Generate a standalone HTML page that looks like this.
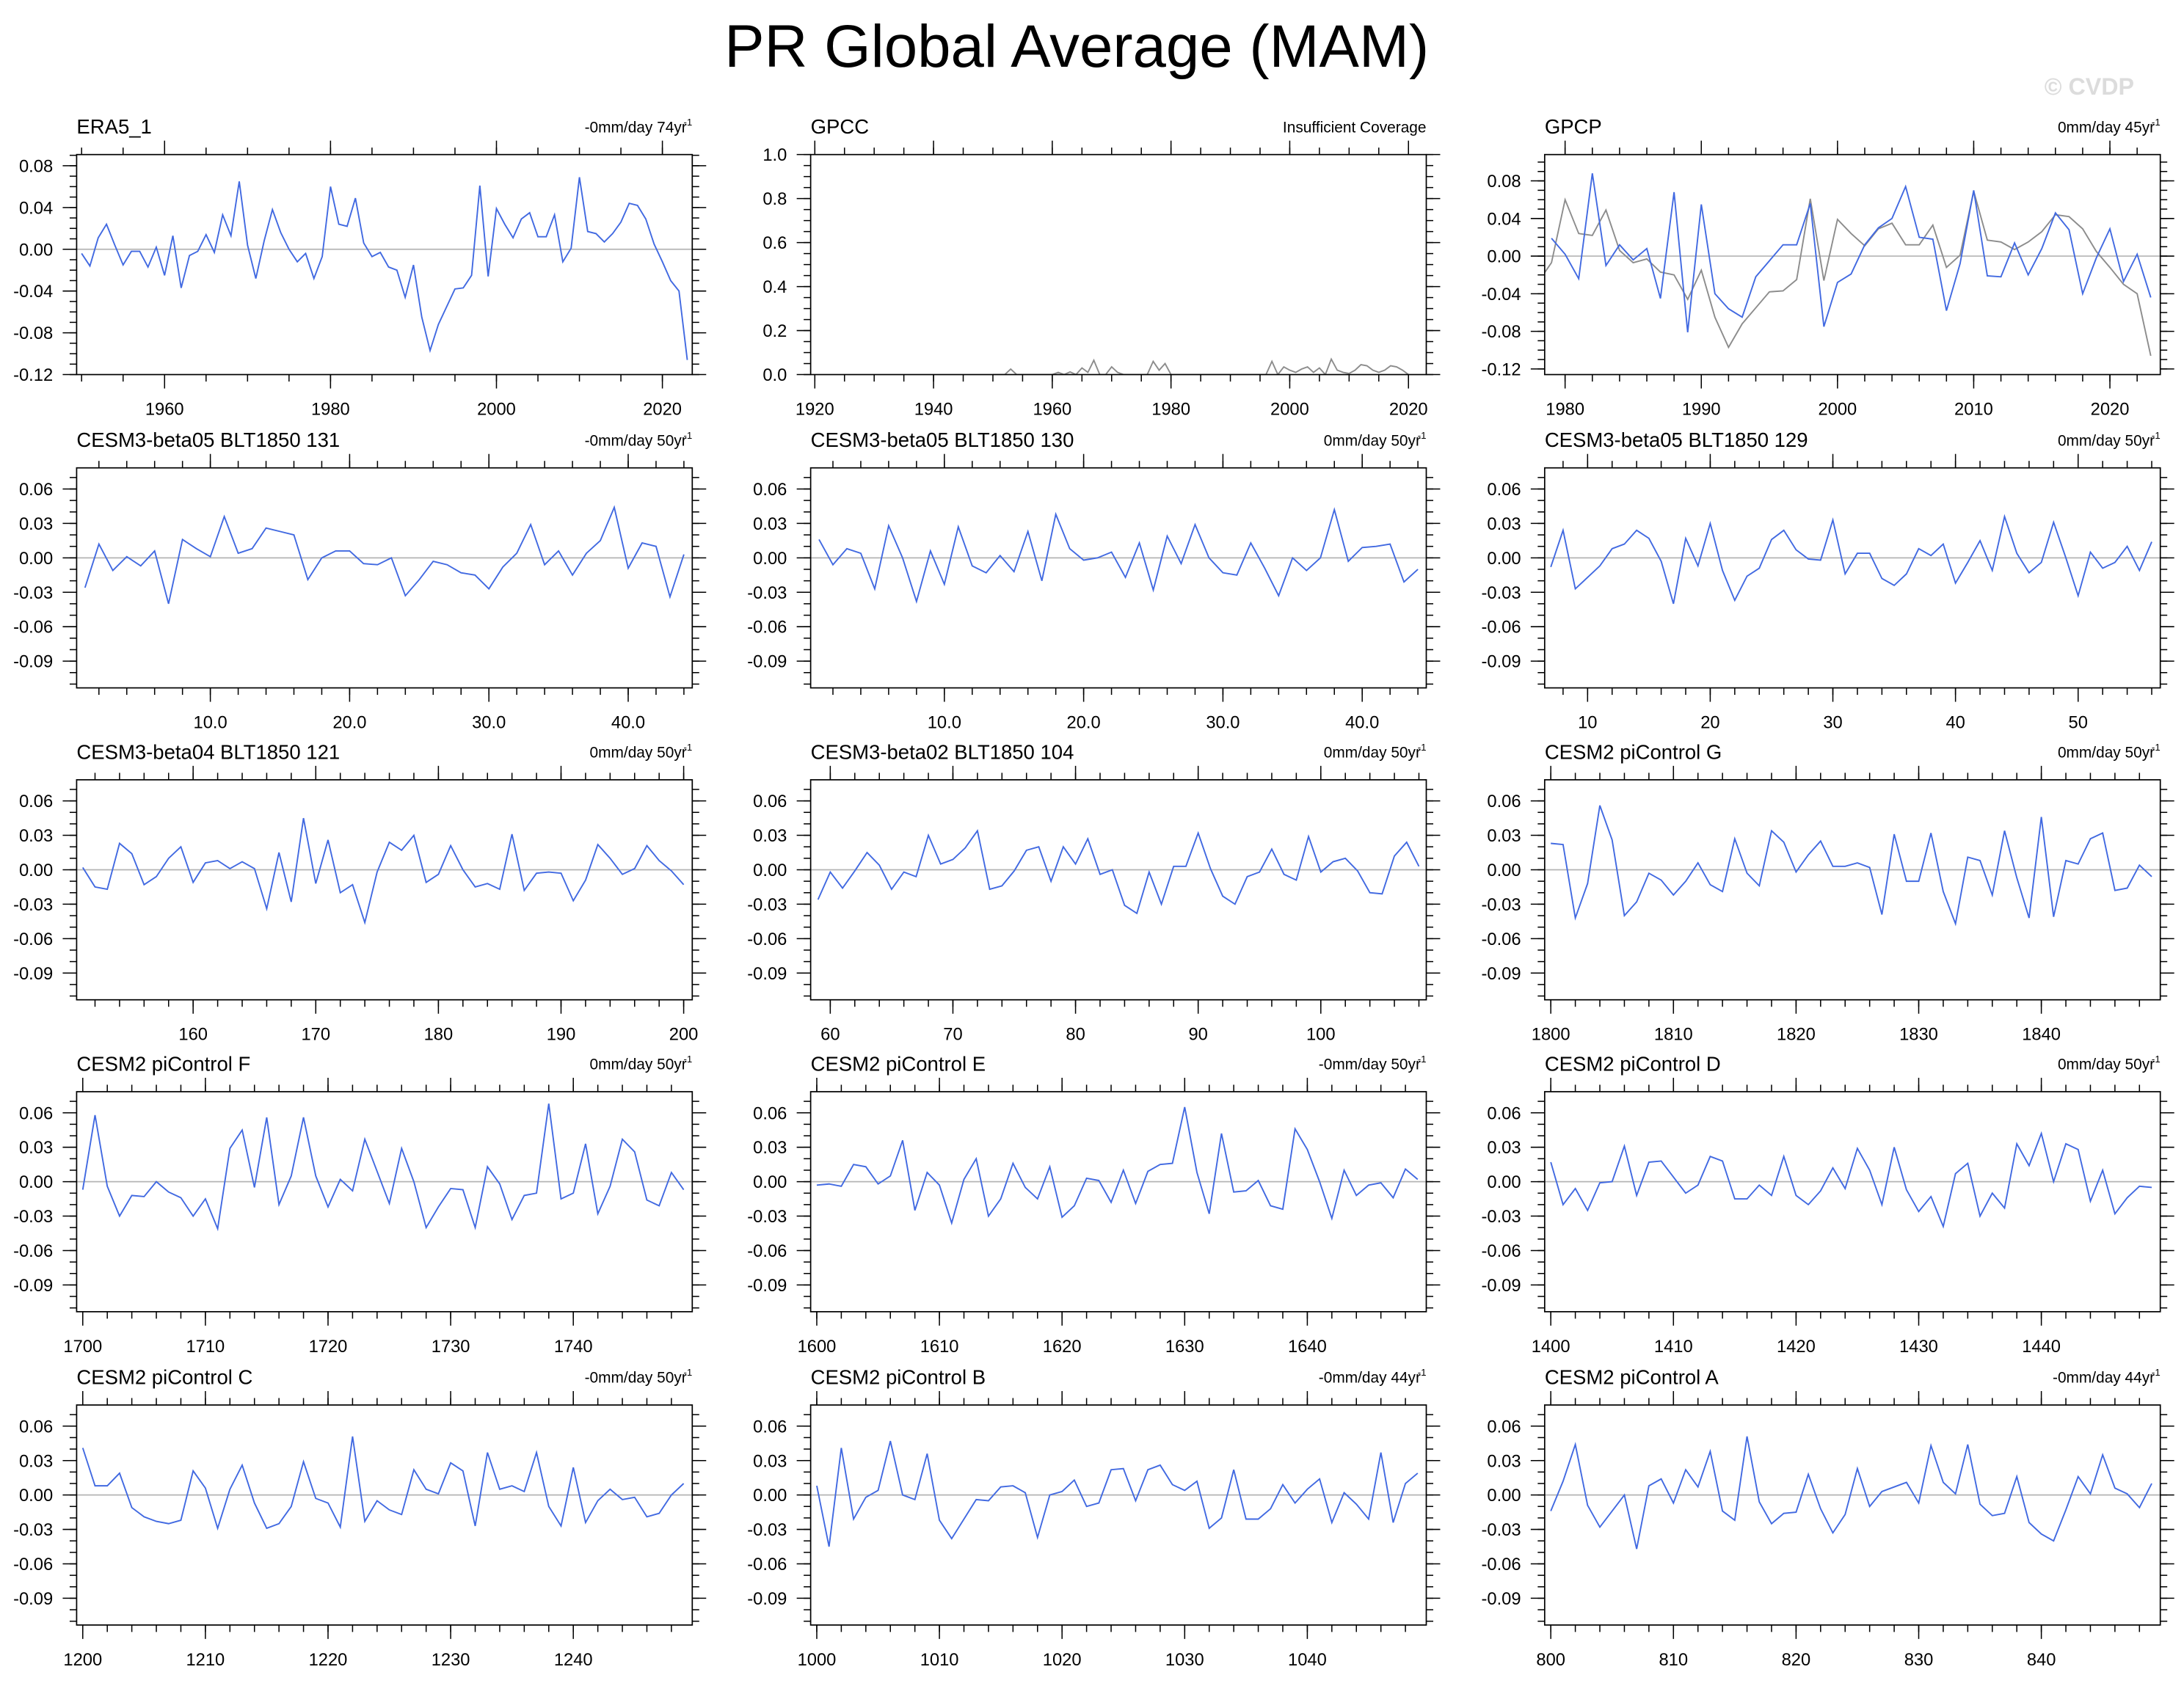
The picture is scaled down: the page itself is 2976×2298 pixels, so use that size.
<!DOCTYPE html>
<html><head><meta charset="utf-8">
<style>
html,body{margin:0;padding:0;background:#fff;}
svg{display:block;font-family:"Liberation Sans",sans-serif;}
</style></head>
<body>
<svg id="chart" width="2976" height="2298" viewBox="0 0 1568 1210.8" xmlns="http://www.w3.org/2000/svg">
<text x="773" y="48" font-size="43" text-anchor="middle" fill="#000">PR Global Average (MAM)</text>
<text x="1500" y="68" font-size="17" font-weight="bold" text-anchor="middle" fill="#dcdcdc">© CVDP</text>
</svg>
<script>
const era5Values=[-0.004,-0.016,0.011,0.024,0.004,-0.015,-0.002,-0.002,-0.017,0.002,-0.025,0.013,-0.037,-0.006,-0.002,0.014,-0.003,0.033,0.013,0.065,0.004,-0.028,0.008,0.038,0.016,0.000,-0.012,-0.004,-0.028,-0.007,0.060,0.024,0.022,0.049,0.006,-0.007,-0.003,-0.017,-0.020,-0.046,-0.015,-0.065,-0.097,-0.072,-0.055,-0.038,-0.037,-0.025,0.061,-0.026,0.039,0.024,0.011,0.029,0.035,0.012,0.012,0.033,-0.012,0.001,0.069,0.017,0.015,0.007,0.015,0.026,0.044,0.042,0.029,0.005,-0.012,-0.030,-0.040,-0.106];
const gpcpValues=[0.019,0.002,-0.024,0.088,-0.010,0.012,-0.004,0.008,-0.045,0.068,-0.081,0.055,-0.040,-0.056,-0.065,-0.022,-0.005,0.012,0.012,0.056,-0.075,-0.028,-0.019,0.012,0.030,0.040,0.074,0.020,0.018,-0.058,-0.008,0.070,-0.021,-0.022,0.014,-0.020,0.008,0.046,0.028,-0.040,-0.002,0.029,-0.027,0.002,-0.044];
const gpccValues=[0,0,0,0.025,0,0,0,0,0,0,0,0.01,0,0.012,0,0.03,0.01,0.065,0,0,0.035,0.01,0,0,0,0,0,0.06,0.02,0.05,0,0,0,0,0,0,0,0,0,0,0,0,0,0,0,0,0,0.06,0,0.035,0.02,0.01,0.025,0.035,0.01,0.03,0,0.07,0.02,0.01,0.005,0.02,0.045,0.04,0.02,0.01,0.02,0.04,0.035,0.02,0];
const b05r131=[-0.026,0.012,-0.011,0.001,-0.007,0.006,-0.040,0.016,0.008,0.001,0.036,0.004,0.008,0.026,0.023,0.020,-0.019,0.000,0.006,0.006,-0.005,-0.006,0.000,-0.033,-0.019,-0.003,-0.006,-0.013,-0.015,-0.027,-0.008,0.004,0.029,-0.006,0.006,-0.015,0.004,0.015,0.044,-0.009,0.013,0.010,-0.034,0.003];
const b05r130=[0.016,-0.006,0.008,0.004,-0.027,0.028,0.000,-0.038,0.006,-0.023,0.027,-0.007,-0.013,0.002,-0.012,0.023,-0.020,0.038,0.008,-0.002,0.000,0.005,-0.017,0.013,-0.028,0.019,-0.005,0.029,0.000,-0.013,-0.015,0.013,-0.009,-0.033,0.000,-0.011,0.000,0.042,-0.003,0.009,0.010,0.012,-0.021,-0.010];
const b05r129=[-0.008,0.024,-0.027,-0.017,-0.007,0.008,0.012,0.024,0.017,-0.003,-0.040,0.017,-0.007,0.030,-0.011,-0.037,-0.016,-0.009,0.016,0.024,0.007,-0.001,-0.002,0.033,-0.014,0.004,0.004,-0.018,-0.024,-0.014,0.008,0.002,0.012,-0.022,-0.004,0.015,-0.011,0.036,0.004,-0.013,-0.004,0.031,0.000,-0.033,0.005,-0.009,-0.004,0.010,-0.011,0.014];
const b04r121=[0.002,-0.015,-0.017,0.023,0.014,-0.013,-0.006,0.010,0.020,-0.011,0.006,0.008,0.001,0.007,0.001,-0.034,0.015,-0.028,0.045,-0.012,0.026,-0.020,-0.013,-0.046,-0.002,0.024,0.017,0.030,-0.011,-0.004,0.021,0.000,-0.015,-0.012,-0.017,0.031,-0.018,-0.003,-0.002,-0.003,-0.027,-0.009,0.022,0.010,-0.004,0.001,0.021,0.008,-0.001,-0.013];
const b02r104=[-0.026,-0.002,-0.016,-0.001,0.015,0.004,-0.017,-0.002,-0.006,0.030,0.005,0.009,0.019,0.034,-0.017,-0.014,-0.001,0.017,0.020,-0.010,0.020,0.005,0.027,-0.004,0.000,-0.031,-0.038,-0.002,-0.030,0.003,0.003,0.032,0.001,-0.023,-0.030,-0.006,-0.002,0.018,-0.004,-0.009,0.029,-0.002,0.007,0.010,-0.001,-0.020,-0.021,0.012,0.024,0.003];
const piG=[0.023,0.022,-0.042,-0.012,0.056,0.026,-0.040,-0.028,-0.003,-0.009,-0.022,-0.010,0.006,-0.013,-0.019,0.027,-0.003,-0.014,0.034,0.024,-0.002,0.013,0.025,0.003,0.003,0.006,0.002,-0.039,0.031,-0.010,-0.010,0.032,-0.019,-0.047,0.011,0.008,-0.022,0.034,-0.007,-0.042,0.046,-0.041,0.008,0.005,0.027,0.032,-0.018,-0.016,0.004,-0.006];
const piF=[-0.007,0.058,-0.004,-0.030,-0.012,-0.013,0.000,-0.009,-0.014,-0.030,-0.015,-0.041,0.029,0.045,-0.005,0.056,-0.020,0.005,0.056,0.005,-0.022,0.002,-0.008,0.037,0.009,-0.019,0.029,0.000,-0.040,-0.022,-0.006,-0.007,-0.040,0.013,-0.002,-0.033,-0.012,-0.010,0.068,-0.015,-0.010,0.033,-0.028,-0.004,0.037,0.026,-0.016,-0.021,0.008,-0.007];
const piE=[-0.003,-0.002,-0.004,0.015,0.013,-0.002,0.005,0.036,-0.025,0.008,-0.003,-0.036,0.002,0.020,-0.030,-0.015,0.016,-0.005,-0.015,0.013,-0.031,-0.021,0.003,0.001,-0.018,0.010,-0.019,0.009,0.015,0.016,0.065,0.008,-0.028,0.042,-0.009,-0.008,0.001,-0.021,-0.024,0.046,0.028,0.000,-0.032,0.010,-0.012,-0.003,-0.001,-0.014,0.011,0.002];
const piD=[0.017,-0.020,-0.006,-0.025,-0.001,0.000,0.031,-0.012,0.017,0.018,0.004,-0.010,-0.003,0.022,0.018,-0.015,-0.015,-0.003,-0.012,0.022,-0.012,-0.020,-0.008,0.012,-0.006,0.029,0.010,-0.020,0.030,-0.007,-0.026,-0.013,-0.039,0.007,0.016,-0.030,-0.010,-0.023,0.033,0.014,0.042,0.000,0.033,0.028,-0.017,0.010,-0.028,-0.014,-0.004,-0.005];
const piC=[0.041,0.008,0.008,0.019,-0.011,-0.019,-0.023,-0.025,-0.022,0.021,0.006,-0.029,0.005,0.026,-0.007,-0.029,-0.025,-0.010,0.029,-0.003,-0.007,-0.028,0.051,-0.023,-0.005,-0.013,-0.017,0.022,0.005,0.001,0.028,0.021,-0.027,0.037,0.005,0.008,0.003,0.037,-0.010,-0.027,0.024,-0.024,-0.005,0.005,-0.004,-0.002,-0.019,-0.016,0.000,0.010];
const piB=[0.008,-0.045,0.041,-0.021,-0.002,0.004,0.047,0.000,-0.004,0.036,-0.022,-0.038,-0.021,-0.004,-0.005,0.007,0.008,0.002,-0.037,0.000,0.003,0.013,-0.010,-0.007,0.022,0.023,-0.005,0.022,0.026,0.009,0.004,0.012,-0.029,-0.020,0.022,-0.021,-0.021,-0.012,0.009,-0.007,0.005,0.014,-0.024,0.002,-0.008,-0.021,0.037,-0.024,0.010,0.019];
const piA=[-0.014,0.012,0.044,-0.009,-0.028,-0.014,0.000,-0.047,0.008,0.014,-0.007,0.022,0.007,0.038,-0.014,-0.022,0.051,-0.006,-0.025,-0.016,-0.015,0.018,-0.012,-0.033,-0.017,0.023,-0.010,0.003,0.007,0.011,-0.007,0.043,0.011,0.001,0.044,-0.008,-0.018,-0.016,0.016,-0.024,-0.034,-0.040,-0.013,0.016,0.001,0.035,0.006,0.001,-0.011,0.010];
const era5Start=1950, gpcpStart=1979, gpccStart=1950;
const yMain=[0.06,0.03,0.00,-0.03,-0.06,-0.09];
const yMainLabels=["0.06","0.03","0.00","-0.03","-0.06","-0.09"];
const yRow1=[0.08,0.04,0.00,-0.04,-0.08,-0.12];
const yRow1Labels=["0.08","0.04","0.00","-0.04","-0.08","-0.12"];
const yGpcc=[0,0.2,0.4,0.6,0.8,1.0];
const yGpccLabels=["0.0","0.2","0.4","0.6","0.8","1.0"];

const NS="http://www.w3.org/2000/svg";
const svg=document.getElementById('chart');
function mk(tag,attrs,parent){const e=document.createElementNS(NS,tag);for(const k in attrs)e.setAttribute(k,attrs[k]);(parent||svg).appendChild(e);return e;}

const colX=[55,582,1109], W=442;
const rowY=[111,336,560,784,1009], H=158;
const BLUE="#4169e1", GRAY="#8c8c8c";

function yr(a,b,s){const r=[];for(let v=a;v<=b+1e-9;v+=s)r.push(+v.toFixed(4));return r;}

const panels=[
 {r:0,c:0,name:"era5",title:"ERA5_1",rt:"-0mm/day 74yr",sets:[{v:era5Values,s:era5Start,col:BLUE}],xr:[1949.4,2023.6],yr:[-0.12,0.0907],xmaj:yr(1960,2020,20),xmin:yr(1950,2020,5),xfmt:v=>String(v),ymaj:yRow1,ylab:yRow1Labels,ymin:0.01},
 {r:0,c:1,name:"gpcc",title:"GPCC",rt:"Insufficient Coverage",nosup:true,sets:[{v:gpccValues,s:gpccStart,col:GRAY}],xr:[1919.3,2023],yr:[0,1.0],xmaj:yr(1920,2020,20),xmin:yr(1920,2020,5),xfmt:v=>String(v),ymaj:yGpcc,ylab:yGpccLabels,ymin:0.05,nozero:true},
 {r:0,c:2,name:"gpcp",title:"GPCP",rt:"0mm/day 45yr",sets:[{v:era5Values,s:era5Start,col:GRAY},{v:gpcpValues,s:gpcpStart,col:BLUE}],xr:[1978.5,2023.7],yr:[-0.126,0.108],xmaj:yr(1980,2020,10),xmin:yr(1980,2022,2),xfmt:v=>String(v),ymaj:yRow1,ylab:yRow1Labels,ymin:0.01},
 {r:1,c:0,name:"beta05-131",title:"CESM3-beta05 BLT1850 131",rt:"-0mm/day 50yr",sets:[{v:b05r131,s:1,col:BLUE}],xr:[0.4,44.6],xmaj:yr(10,40,10),xmin:yr(2,44,2),xfmt:v=>v.toFixed(1)},
 {r:1,c:1,name:"beta05-130",title:"CESM3-beta05 BLT1850 130",rt:"0mm/day 50yr",sets:[{v:b05r130,s:1,col:BLUE}],xr:[0.4,44.6],xmaj:yr(10,40,10),xmin:yr(2,44,2),xfmt:v=>v.toFixed(1)},
 {r:1,c:2,name:"beta05-129",title:"CESM3-beta05 BLT1850 129",rt:"0mm/day 50yr",sets:[{v:b05r129,s:7,col:BLUE}],xr:[6.5,56.7],xmaj:yr(10,50,10),xmin:yr(8,56,2),xfmt:v=>String(v)},
 {r:2,c:0,name:"beta04-121",title:"CESM3-beta04 BLT1850 121",rt:"0mm/day 50yr",sets:[{v:b04r121,s:151,col:BLUE}],xr:[150.5,200.7],xmaj:yr(160,200,10),xmin:yr(152,200,2),xfmt:v=>String(v)},
 {r:2,c:1,name:"beta02-104",title:"CESM3-beta02 BLT1850 104",rt:"0mm/day 50yr",sets:[{v:b02r104,s:59,col:BLUE}],xr:[58.4,108.6],xmaj:yr(60,100,10),xmin:yr(60,108,2),xfmt:v=>String(v)},
 {r:2,c:2,name:"picontrol-g",title:"CESM2 piControl G",rt:"0mm/day 50yr",sets:[{v:piG,s:1800,col:BLUE}],xr:[1799.5,1849.7],xmaj:yr(1800,1840,10),xmin:yr(1800,1848,2),xfmt:v=>String(v)},
 {r:3,c:0,name:"picontrol-f",title:"CESM2 piControl F",rt:"0mm/day 50yr",sets:[{v:piF,s:1700,col:BLUE}],xr:[1699.5,1749.7],xmaj:yr(1700,1740,10),xmin:yr(1700,1748,2),xfmt:v=>String(v)},
 {r:3,c:1,name:"picontrol-e",title:"CESM2 piControl E",rt:"-0mm/day 50yr",sets:[{v:piE,s:1600,col:BLUE}],xr:[1599.5,1649.7],xmaj:yr(1600,1640,10),xmin:yr(1600,1648,2),xfmt:v=>String(v)},
 {r:3,c:2,name:"picontrol-d",title:"CESM2 piControl D",rt:"0mm/day 50yr",sets:[{v:piD,s:1400,col:BLUE}],xr:[1399.5,1449.7],xmaj:yr(1400,1440,10),xmin:yr(1400,1448,2),xfmt:v=>String(v)},
 {r:4,c:0,name:"picontrol-c",title:"CESM2 piControl C",rt:"-0mm/day 50yr",sets:[{v:piC,s:1200,col:BLUE}],xr:[1199.5,1249.7],xmaj:yr(1200,1240,10),xmin:yr(1200,1248,2),xfmt:v=>String(v)},
 {r:4,c:1,name:"picontrol-b",title:"CESM2 piControl B",rt:"-0mm/day 44yr",sets:[{v:piB,s:1000,col:BLUE}],xr:[999.5,1049.7],xmaj:yr(1000,1040,10),xmin:yr(1000,1048,2),xfmt:v=>String(v)},
 {r:4,c:2,name:"picontrol-a",title:"CESM2 piControl A",rt:"-0mm/day 44yr",sets:[{v:piA,s:800,col:BLUE}],xr:[799.5,849.7],xmaj:yr(800,840,10),xmin:yr(800,848,2),xfmt:v=>String(v)}
];

panels.forEach((p,idx)=>{
  const L=colX[p.c], T=rowY[p.r], R=L+W, B=T+H;
  const yrng=p.yr||[-0.1133,0.0784];
  const ymaj=p.ymaj||yMain, ylab=p.ylab||yMainLabels, ymin=p.ymin||0.01;
  const xs=v=>L+(v-p.xr[0])/(p.xr[1]-p.xr[0])*W;
  const ys=v=>B-(v-yrng[0])/(yrng[1]-yrng[0])*H;
  const g=mk('g',{});
  
  
  const cid='clip'+idx;
  const cp=mk('clipPath',{id:cid},g); mk('rect',{x:L,y:T,width:W,height:H},cp);
  const t=mk('text',{x:L,y:T-15,'font-size':14.5,fill:'#000'},g); t.textContent=p.title;
   
  const rt=mk('text',{x:R-(p.nosup?0:4),y:T-16,'font-size':11,'text-anchor':'end',fill:'#000'},g); rt.textContent=p.rt;
   
  if(!p.nosup){const s=mk('text',{x:R,y:T-21,'font-size':7,'text-anchor':'end',fill:'#000'},g);s.textContent='-1';
     }
  const tk=mk('g',{stroke:'#000','stroke-width':0.8},g);
   
  p.xmin.forEach(v=>{const x=xs(v); if(x<L-0.5||x>R+0.5)return;
    mk('line',{x1:x,x2:x,y1:B,y2:B+5},tk); mk('line',{x1:x,x2:x,y1:T,y2:T-5},tk);});
  p.xmaj.forEach(v=>{const x=xs(v);
    mk('line',{x1:x,x2:x,y1:B,y2:B+10},tk); mk('line',{x1:x,x2:x,y1:T,y2:T-10},tk);
    const lt=mk('text',{x:x,y:B+29,'font-size':12.5,'text-anchor':'middle',fill:'#000',stroke:'none'},g); lt.textContent=p.xfmt(v);
     });
  for(let v=Math.ceil(yrng[0]/ymin-1e-6)*ymin; v<=yrng[1]+1e-9; v+=ymin){const y=ys(v);
    mk('line',{x1:L,x2:L-5,y1:y,y2:y},tk); mk('line',{x1:R,x2:R+5,y1:y,y2:y},tk);}
  ymaj.forEach((v,i)=>{const y=ys(v);
    mk('line',{x1:L,x2:L-10,y1:y,y2:y},tk); mk('line',{x1:R,x2:R+10,y1:y,y2:y},tk);
    const lt=mk('text',{x:L-17,y:y+4.5,'font-size':12.5,'text-anchor':'end',fill:'#000'},g); lt.textContent=ylab[i];
     });
  if(!p.nozero){const z=mk('line',{x1:L,x2:R,y1:ys(0),y2:ys(0),stroke:'#b4b4b4','stroke-width':0.9},g);
     }
  p.sets.forEach(s=>{
    const pts=s.v.map((v,i)=>xs(s.s+i).toFixed(2)+','+ys(v).toFixed(2)).join(' ');
    const pl=mk('polyline',{points:pts,fill:'none',stroke:s.col,'stroke-width':1,'clip-path':'url(#'+cid+')'},g);
    
    
  });
  const fr=mk('rect',{x:L,y:T,width:W,height:H,fill:'none',stroke:'#000','stroke-width':0.9},g);
   
});
</script>
</body></html>
